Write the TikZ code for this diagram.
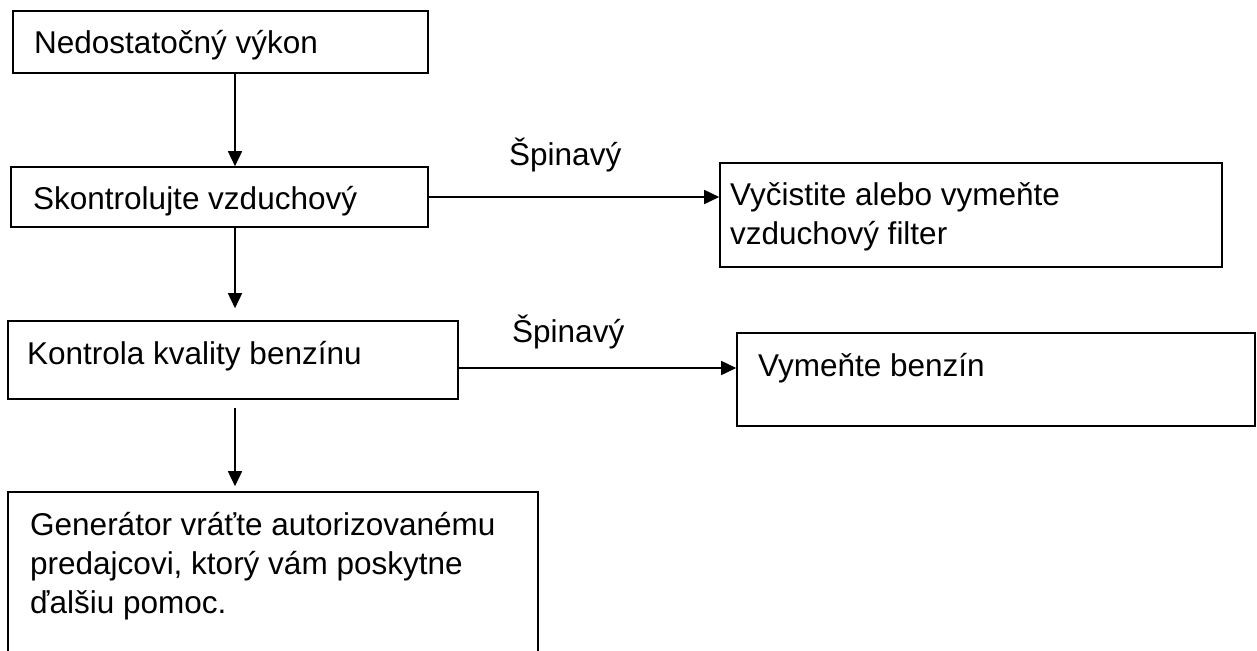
\documentclass[tikz,border=0pt]{standalone}
\usepackage{fontspec}
\setmainfont{Liberation Sans}
\usetikzlibrary{arrows.meta}
\pgfdeclarelayer{edgelayer}
\pgfdeclarelayer{nodelayer}
\pgfsetlayers{edgelayer,nodelayer,main}
\tikzstyle{none}=[inner sep=0mm]
\tikzstyle{box}=[draw=black,line width=1.6pt,shape=rectangle,inner sep=0mm]
\tikzstyle{lbl}=[none,anchor=base west,align=left,font=\fontsize{31.5}{39}\selectfont]
\tikzstyle{diredge}=[-{Triangle[length=15pt,width=14pt]},line width=1.6pt]

\begin{document}
\begin{tikzpicture}[x=1pt,y=-1pt]
	\useasboundingbox (0,0) rectangle (1257,650);
	\begin{pgfonlayer}{nodelayer}
		\node [style=box,minimum width=415pt,minimum height=62pt] (b1) at (220.5, 42) {};
		\node [style=box,minimum width=417pt,minimum height=60pt] (b2) at (219.5, 197) {};
		\node [style=box,minimum width=502pt,minimum height=104pt] (bA) at (971, 215) {};
		\node [style=box,minimum width=450pt,minimum height=78pt] (b3) at (233, 360) {};
		\node [style=box,minimum width=518pt,minimum height=93pt] (bB) at (996, 379.5) {};
		\node [style=box,minimum width=530pt,minimum height=208pt] (b4) at (273, 596) {};
		% multi-line labels sit on the baseline of their last line
		\node [style=lbl] (t1) at (34, 54) {Nedostatočný výkon};
		\node [style=lbl] (t2) at (33, 209) {Skontrolujte vzduchový};
		\node [style=lbl] (tA) at (730, 244) {Vyčistite alebo vymeňte\\vzduchový filter};
		\node [style=lbl] (t3) at (27, 364) {Kontrola kvality benzínu};
		\node [style=lbl] (tB) at (758, 376) {Vymeňte benzín};
		\node [style=lbl] (t4) at (30, 613) {Generátor vráťte autorizovanému\\predajcovi, ktorý vám poskytne\\ďalšiu pomoc.};
		\node [style=lbl] (s1) at (509, 165) {Špinavý};
		\node [style=lbl] (s2) at (512, 342) {Špinavý};
	\end{pgfonlayer}
	\begin{pgfonlayer}{edgelayer}
		\draw [style=diredge] ([xshift=14.5pt]b1.south) to ([xshift=15.5pt]b2.north);
		\draw [style=diredge] (b2.east) to (b2.east -| bA.west);
		\draw [style=diredge,shorten >=12pt] ([xshift=15.5pt]b2.south) to ([xshift=2pt]b3.north);
		\draw [style=diredge] ([yshift=-8pt]b3.east) to ([yshift=-8pt]b3.east -| bB.west);
		\draw [style=diredge,shorten <=8pt,shorten >=5pt] ([xshift=2pt]b3.south) to ([xshift=-38pt]b4.north);
	\end{pgfonlayer}
\end{tikzpicture}
\end{document}
